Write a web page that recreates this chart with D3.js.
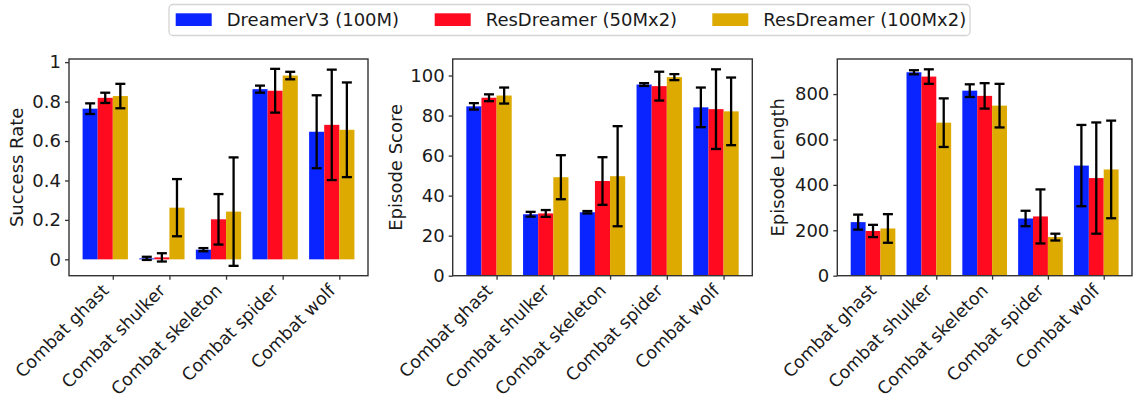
<!DOCTYPE html>
<html>
<head>
<meta charset="utf-8">
<script src="https://cdn.jsdelivr.net/npm/d3@7"></script>
<style>
  body { margin: 0; background: #fff; }
  svg { display: block; font-family: "DejaVu Sans", sans-serif; }
</style>
</head>
<body>
<svg id="chart" width="1133" height="402"></svg>
<script>
const categories = ['Combat ghast', 'Combat shulker', 'Combat skeleton', 'Combat spider', 'Combat wolf']
const seriesNames = ['DreamerV3 (100M)', 'ResDreamer (50Mx2)', 'ResDreamer (100Mx2)']
const seriesColors = ['#0a24ff', '#ff0a1e', '#dcaa00']

// one row per series, one value per category
const successMean = [
    [0.764, 0.005, 0.049, 0.863, 0.647],
    [0.819, 0.010, 0.203, 0.855, 0.682],
    [0.828, 0.262, 0.242, 0.932, 0.657]
]
const successErr = [
    [0.027, 0.008, 0.008, 0.018, 0.185],
    [0.026, 0.021, 0.128, 0.111, 0.280],
    [0.062, 0.145, 0.275, 0.019, 0.240]
]
const scoreMean = [
    [84.6, 30.7, 31.7, 95.5, 84.1],
    [88.9, 31.1, 47.3, 94.7, 83.2],
    [90.0, 49.2, 49.7, 99.2, 82.1]
]
const scoreErr = [
    [1.6, 1.2, 0.6, 0.7, 9.9],
    [1.7, 1.7, 11.9, 7.2, 19.9],
    [4.0, 11.0, 25.0, 1.5, 16.9]
]
const lengthMean = [
    [236, 896, 815, 252, 485],
    [197, 877, 792, 261, 430],
    [208, 674, 749, 170, 468]
]
const lengthErr = [
    [33, 9, 28, 34, 179],
    [27, 32, 56, 119, 245],
    [63, 107, 96, 15, 215]
]
const successTicks = [0, 0.2, 0.4, 0.6, 0.8, 1]
const scoreTicks = [0, 20, 40, 60, 80, 100]
const lengthTicks = [0, 200, 400, 600, 800]

const panels = [
    { label: 'Success Rate', mean: successMean, err: successErr, ticks: successTicks, left: 69, right: 368, labelX: 17 },
    { label: 'Episode Score', mean: scoreMean, err: scoreErr, ticks: scoreTicks, left: 452.7, right: 752.3, labelX: 395.5 },
    { label: 'Episode Length', mean: lengthMean, err: lengthErr, ticks: lengthTicks, left: 837.3, right: 1132, labelX: 777.5 }
]

const plotTop = 59
const plotBottom = 275.7
const barW = 0.8 / 3
const fontSize = 18
const textColor = '#1a1a1a'

const svg = d3.select('#chart')

// matplotlib style autoscale with 5% margins
const autoLimits = (mean, err) => {
    let lo = Infinity, hi = -Infinity
    mean.forEach((row, s) => row.forEach((v, i) => {
        lo = Math.min(lo, v - err[s][i], 0)
        hi = Math.max(hi, v + err[s][i])
    }))
    const pad = (hi - lo) * 0.05
    return [lo < 0 ? lo - pad : 0, hi + pad]
}

panels.forEach(p => {
    const xLo = -2 * barW, xHi = categories.length - 1 + barW
    const xPad = (xHi - xLo) * 0.05
    const x = d3.scaleLinear().domain([xLo - xPad, xHi + xPad]).range([p.left, p.right])
    const y = d3.scaleLinear().domain(autoLimits(p.mean, p.err)).range([plotBottom, plotTop])

    const g = svg.append('g')

    // bars
    p.mean.forEach((row, s) => {
        g.append('g').selectAll('rect')
            .data(row)
            .enter()
            .append('rect')
            .attr('x', (d, i) => x(i + (s - 2) * barW))
            .attr('y', d => y(d))
            .attr('width', x(barW) - x(0))
            .attr('height', d => y(0) - y(d))
            .attr('fill', seriesColors[s])
    })

    // error bars
    p.mean.forEach((row, s) => {
        const cap = 5
        const eg = g.append('g').attr('stroke', '#000').attr('stroke-width', 2.3)
        row.forEach((v, i) => {
            const cx = x(i + (s - 1.5) * barW)
            const y1 = y(v - p.err[s][i]), y2 = y(v + p.err[s][i])
            eg.append('line').attr('x1', cx).attr('x2', cx).attr('y1', y1).attr('y2', y2)
            eg.append('line').attr('x1', cx - cap).attr('x2', cx + cap).attr('y1', y1).attr('y2', y1)
            eg.append('line').attr('x1', cx - cap).attr('x2', cx + cap).attr('y1', y2).attr('y2', y2)
        })
    })

    // frame
    g.append('rect')
        .attr('x', p.left).attr('y', plotTop)
        .attr('width', p.right - p.left).attr('height', plotBottom - plotTop)
        .attr('fill', 'none').attr('stroke', '#333').attr('stroke-width', 1.4)

    // y axis
    const yAxis = g.append('g')
        .attr('transform', `translate(${p.left},0)`)
        .call(d3.axisLeft(y).tickValues(p.ticks).tickFormat(d => String(d)).tickSize(4).tickPadding(4))
    yAxis.select('.domain').remove()
    yAxis.selectAll('line').attr('stroke', '#333').attr('stroke-width', 1.3)
    yAxis.selectAll('text').attr('font-size', fontSize).attr('fill', textColor)
        .attr('font-family', '"DejaVu Sans", sans-serif')

    // x axis
    const xAxis = g.append('g')
        .attr('transform', `translate(0,${plotBottom})`)
        .call(d3.axisBottom(x).tickValues(d3.range(categories.length)).tickSize(4).tickFormat(''))
    xAxis.select('.domain').remove()
    xAxis.selectAll('line').attr('stroke', '#333').attr('stroke-width', 1.3)

    g.append('g').selectAll('text')
        .data(categories)
        .enter()
        .append('text')
        .attr('transform', (d, i) => `translate(${x(i) - 3},${plotBottom + 16}) rotate(-45)`)
        .attr('text-anchor', 'end')
        .attr('font-size', 17.5)
        .attr('fill', textColor)
        .text(d => d)

    // y label
    g.append('text')
        .attr('transform', `translate(${p.labelX},${(plotTop + plotBottom) / 2}) rotate(-90)`)
        .attr('text-anchor', 'middle')
        .attr('dy', '0.35em')
        .attr('font-size', fontSize)
        .attr('fill', textColor)
        .text(p.label)
})

// legend
const legend = svg.append('g')
legend.append('rect')
    .attr('x', 169).attr('y', 4.5)
    .attr('width', 801).attr('height', 31)
    .attr('rx', 4)
    .attr('fill', '#fff').attr('stroke', '#d4d4d4').attr('stroke-width', 1.3)

const legendX = [175.7, 434.7, 712.3]
const items = legend.selectAll('g.item')
    .data(seriesNames)
    .enter()
    .append('g')
    .attr('class', 'item')
    .attr('transform', (d, i) => `translate(${legendX[i]},0)`)
items.append('rect')
    .attr('x', 0).attr('y', 13.3)
    .attr('width', 36).attr('height', 12.7)
    .attr('fill', (d, i) => seriesColors[i])
items.append('text')
    .attr('x', 51).attr('y', 26)
    .attr('font-size', fontSize)
    .attr('fill', textColor)
    .text(d => d)
</script>
</body>
</html>
